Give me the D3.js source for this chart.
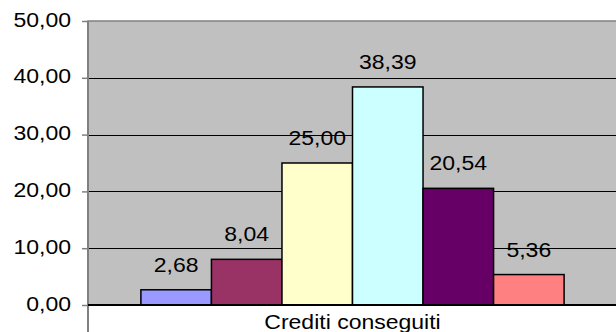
<!DOCTYPE html>
<html>
<head>
<meta charset="utf-8">
<script src="https://cdn.jsdelivr.net/npm/d3@7"></script>
<style>
  html, body { margin: 0; padding: 0; background: #fff; }
  svg { display: block; }
  text { font-family: "Liberation Sans", Arial, sans-serif; fill: #000; }
</style>
</head>
<body>
<svg id="chart" width="616" height="332"></svg>
<script>
// Chart data
const categories = ["Crediti conseguiti"];
const seriesKeys = ["s1", "s2", "s3", "s4", "s5", "s6"];
const seriesValues = [2.68, 8.04, 25.00, 38.39, 20.54, 5.36];
const seriesColors = ["#9999FF", "#993366", "#FFFFCC", "#CCFFFF", "#660066", "#FF8080"];
const yTicks = [0, 10, 20, 30, 40, 50];

const W = 616, H = 332;
const plot = { left: 88, right: 617, top: 21, bottom: 305 };
const fmt = v => d3.format(".2f")(v).replace(".", ",");
const FONT = 20;
const STRETCH = 1.15; // wide text rendering

const svg = d3.select("#chart");

const y = d3.scaleLinear().domain([0, 50]).range([plot.bottom, plot.top]);
const x0 = d3.scaleBand().domain(categories).range([plot.left, plot.right])
  .paddingInner(0.2).paddingOuter(0.1);
const x1 = d3.scaleBand().domain(seriesKeys).range([0, x0.bandwidth()]);

function stretch(sel) {
  sel.each(function () {
    const w = this.getComputedTextLength();
    d3.select(this).attr("textLength", w * STRETCH).attr("lengthAdjust", "spacingAndGlyphs");
  });
}

// Plot area background
svg.append("rect")
  .attr("x", plot.left).attr("y", plot.top)
  .attr("width", plot.right - plot.left).attr("height", plot.bottom - plot.top)
  .attr("fill", "#C0C0C0").attr("stroke", "#808080").attr("stroke-width", 1.5);

// Gridlines
svg.append("g").selectAll("line")
  .data(yTicks.filter(t => t > 0 && t < 50))
  .join("line")
  .attr("x1", plot.left).attr("x2", plot.right)
  .attr("y1", d => Math.round(y(d)) + 0.5).attr("y2", d => Math.round(y(d)) + 0.5)
  .attr("stroke", "#000").attr("stroke-width", 1);

// Bars
const group = svg.append("g").attr("transform", `translate(${x0(categories[0])},0)`);
group.selectAll("rect")
  .data(seriesValues.map((v, i) => ({ key: seriesKeys[i], value: v, color: seriesColors[i] })))
  .join("rect")
  .attr("x", d => x1(d.key))
  .attr("y", d => y(d.value))
  .attr("width", x1.bandwidth())
  .attr("height", d => y(0) - y(d.value))
  .attr("fill", d => d.color)
  .attr("stroke", "#000").attr("stroke-width", 1.5);

// Value labels
group.selectAll("text.val")
  .data(seriesValues.map((v, i) => ({ key: seriesKeys[i], value: v })))
  .join("text")
  .attr("class", "val")
  .attr("x", d => x1(d.key) + x1.bandwidth() / 2)
  .attr("y", d => y(d.value) - 18)
  .attr("text-anchor", "middle")
  .attr("font-size", FONT)
  .text(d => fmt(d.value))
  .call(stretch);

// Y axis
const yAxis = svg.append("g")
  .attr("transform", `translate(${plot.left},0)`)
  .call(d3.axisLeft(y).tickValues(yTicks).tickFormat(fmt).tickSize(6).tickPadding(11));
yAxis.select(".domain").remove();
yAxis.selectAll(".tick line").attr("stroke", "#808080").attr("stroke-width", 1.5);
yAxis.selectAll(".tick text")
  .attr("font-size", FONT)
  .attr("font-family", "Liberation Sans, Arial, sans-serif")
  .attr("dy", "0.25em")
  .call(stretch);

// Left axis line (extends into category area)
svg.append("line")
  .attr("x1", plot.left).attr("x2", plot.left)
  .attr("y1", plot.top).attr("y2", H)
  .attr("stroke", "#808080").attr("stroke-width", 2);

// Category axis line
svg.append("line")
  .attr("x1", plot.left).attr("x2", plot.right)
  .attr("y1", plot.bottom).attr("y2", plot.bottom)
  .attr("stroke", "#000").attr("stroke-width", 2);

// Category label
svg.append("g").selectAll("text")
  .data(categories)
  .join("text")
  .attr("x", d => x0(d) + x0.bandwidth() / 2)
  .attr("y", 329)
  .attr("text-anchor", "middle")
  .attr("font-size", FONT)
  .text(d => d)
  .call(stretch);
</script>
</body>
</html>
